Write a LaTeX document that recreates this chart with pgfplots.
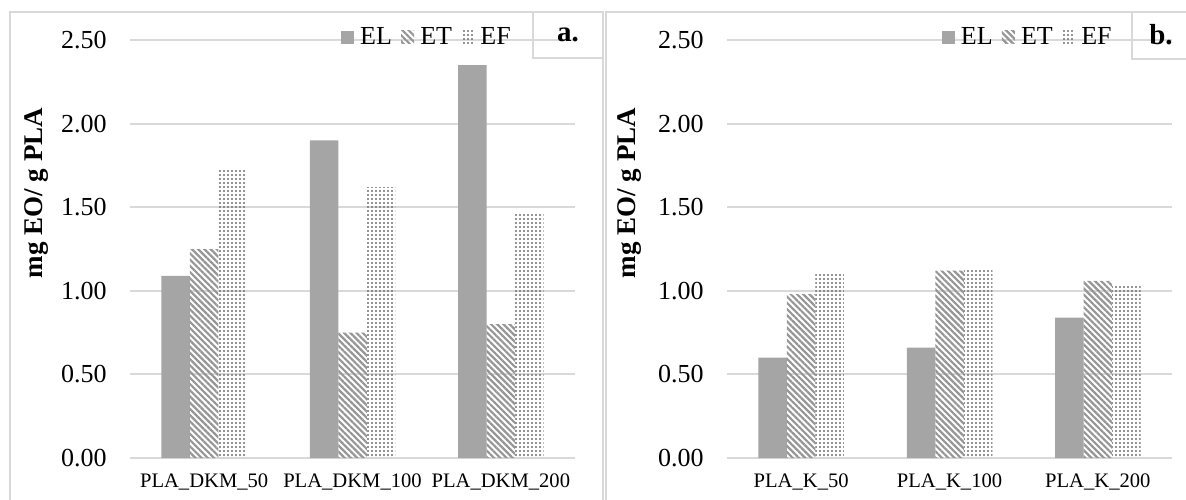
\documentclass[border=0pt]{standalone}
\usepackage{fontspec}
\setmainfont{Liberation Serif}
\usepackage{pgfplots}
\pgfplotsset{compat=1.18}
\usetikzlibrary{patterns.meta}
\definecolor{barg}{HTML}{A5A5A5}
\definecolor{gridc}{HTML}{D9D9D9}
\definecolor{dotc}{HTML}{6E6E6E}
\definecolor{linec}{HTML}{969696}

\pgfplotsset{
  panel/.style={
    scale only axis, width=222.5pt, height=209pt,
    xmin=-0.5, xmax=2.5, ymin=0, ymax=2.5,
    ybar=0pt, bar width=14.25pt,
    xtick={0,1,2}, ytick={0,0.5,1,1.5,2,2.5},
    ymajorgrids, major grid style={draw=gridc, line width=1pt},
    axis line style={draw=none}, major tick length=0pt,
    yticklabel style={/pgf/number format/fixed, /pgf/number format/fixed zerofill,
      /pgf/number format/precision=2, /pgf/number format/assume math mode=true,
      font=\fontsize{13}{15}\selectfont, anchor=east, inner sep=0pt, xshift=-11.5pt},
    xticklabel style={font=\fontsize{10.3}{12}\selectfont, anchor=base, inner sep=0pt, yshift=-14.5pt},
    legend columns=3,
    legend style={draw=none, fill=none, anchor=center,
      font=\fontsize{13}{15}\selectfont,
      nodes={inner sep=1.6pt},
      /tikz/every even column/.append style={column sep=3pt}},
    every axis plot post/.append style={
      legend image code/.code={\fill[##1] (0pt,-3.25pt) rectangle (6.5pt,3.25pt);
        \path (0pt,0pt) -- (8pt,0pt);}},
  },
  ELs/.style={draw=none, fill=barg},
  ETs/.style={draw=none, pattern={Lines[angle=-45, distance=2.2pt, line width=1.1pt]}, pattern color=linec},
  EFs/.style={draw=none, pattern={Dots[distance=2pt, radius=0.6pt]}, pattern color=dotc},
}

\begin{document}
\begin{tikzpicture}
\useasboundingbox (0,0) rectangle (593pt,249.5pt);
% panel frames
\draw[gridc, line width=0.75pt] (5pt,-2pt) rectangle (301.5pt,243.5pt);
\draw[gridc, line width=0.75pt] (303pt,-2pt) rectangle (597pt,243.5pt);

\begin{axis}[panel, at={(65pt,20.5pt)}, anchor=south west,
  xticklabels={PLA\_DKM\_50, PLA\_DKM\_100, PLA\_DKM\_200},
  legend style={at={(rel axis cs:0.6685,1.007)}}]
\addplot[ELs] coordinates {(0,1.09) (1,1.90) (2,2.35)};
\addplot[ETs] coordinates {(0,1.25) (1,0.75) (2,0.80)};
\addplot[EFs] coordinates {(0,1.73) (1,1.62) (2,1.47)};
\legend{EL,ET,EF}
\end{axis}

\begin{axis}[panel, at={(363.5pt,20.5pt)}, anchor=south west,
  xticklabels={PLA\_K\_50, PLA\_K\_100, PLA\_K\_200},
  legend style={at={(rel axis cs:0.677,1.007)}}]
\addplot[ELs] coordinates {(0,0.60) (1,0.66) (2,0.84)};
\addplot[ETs] coordinates {(0,0.98) (1,1.12) (2,1.06)};
\addplot[EFs] coordinates {(0,1.10) (1,1.13) (2,1.04)};
\legend{EL,ET,EF}
\end{axis}

% y labels
\node[rotate=90, font=\bfseries\fontsize{13.5}{16}\selectfont] at (18.5pt,153pt) {mg EO/ g PLA};
\node[rotate=90, font=\bfseries\fontsize{13.5}{16}\selectfont] at (315pt,153pt) {mg EO/ g PLA};

% panel tags
\draw[gridc, line width=0.75pt] (266.5pt,243.5pt) -- (266.5pt,220.5pt) -- (301.5pt,220.5pt);
\node[font=\bfseries\fontsize{14.5}{17}\selectfont] at (284pt,232pt) {a.};
\draw[gridc, line width=0.75pt] (566pt,243.5pt) -- (566pt,220pt) -- (597pt,220pt);
\node[font=\bfseries\fontsize{14.5}{17}\selectfont] at (580.5pt,232pt) {b.};
\end{tikzpicture}
\end{document}
